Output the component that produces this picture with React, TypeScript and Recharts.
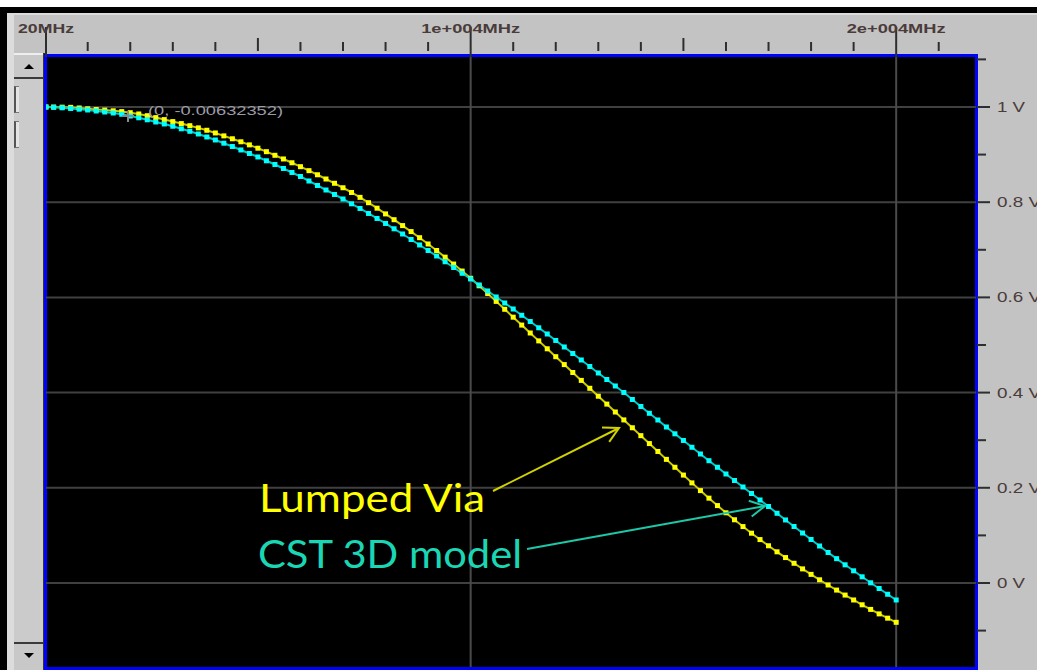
import React from "react"
import { LineChart, Line, XAxis, YAxis, ReferenceLine } from "recharts"

// sweep frequency in MHz
const FREQ_MHZ = [
  20, 200, 400, 600, 800, 1000, 1200, 1400, 1600, 1800,
  2000, 2200, 2400, 2600, 2800, 3000, 3200, 3400, 3600, 3800,
  4000, 4200, 4400, 4600, 4800, 5000, 5200, 5400, 5600, 5800,
  6000, 6200, 6400, 6600, 6800, 7000, 7200, 7400, 7600, 7800,
  8000, 8200, 8400, 8600, 8800, 9000, 9200, 9400, 9600, 9800,
  10000, 10200, 10400, 10600, 10800, 11000, 11200, 11400, 11600, 11800,
  12000, 12200, 12400, 12600, 12800, 13000, 13200, 13400, 13600, 13800,
  14000, 14200, 14400, 14600, 14800, 15000, 15200, 15400, 15600, 15800,
  16000, 16200, 16400, 16600, 16800, 17000, 17200, 17400, 17600, 17800,
  18000, 18200, 18400, 18600, 18800, 19000, 19200, 19400, 19600, 19800,
  20000,
]

// yellow trace (V)
const LUMPED_VIA = [
  1.0, 0.9998, 0.9996, 0.9992, 0.9979, 0.9962, 0.9947, 0.9935, 0.992, 0.9903,
  0.988, 0.9853, 0.9817, 0.9777, 0.9735, 0.9693, 0.9651, 0.9607, 0.9561, 0.9511,
  0.9454, 0.9393, 0.9332, 0.9269, 0.9204, 0.9134, 0.9061, 0.8985, 0.8908, 0.8828,
  0.8746, 0.8662, 0.8576, 0.8487, 0.8397, 0.8303, 0.8204, 0.8101, 0.7989, 0.7874,
  0.7754, 0.7632, 0.7508, 0.7382, 0.7254, 0.7122, 0.6985, 0.6845, 0.67, 0.6553,
  0.6401, 0.6244, 0.6082, 0.5916, 0.575, 0.5584, 0.5418, 0.5252, 0.5086, 0.492,
  0.4754, 0.4588, 0.4422, 0.4256, 0.409, 0.3924, 0.3758, 0.3592, 0.3426, 0.3261,
  0.3095, 0.2929, 0.2763, 0.2597, 0.2431, 0.2267, 0.2103, 0.1941, 0.1782, 0.1626,
  0.1475, 0.1328, 0.1185, 0.1046, 0.0912, 0.0782, 0.0655, 0.0534, 0.0414, 0.0296,
  0.0181, 0.0067, -0.0042, -0.0149, -0.0254, -0.0357, -0.0458, -0.0555, -0.0649, -0.0739,
  -0.0826,
]

// cyan trace (V)
const CST_3D = [
  1.0, 0.9994, 0.9983, 0.9968, 0.9954, 0.9937, 0.9916, 0.9895, 0.9874, 0.9847,
  0.9811, 0.9773, 0.9731, 0.9685, 0.9643, 0.9595, 0.9542, 0.9489, 0.9433, 0.937,
  0.9307, 0.9239, 0.917, 0.9097, 0.9023, 0.895, 0.887, 0.8792, 0.8708, 0.8624,
  0.854, 0.8445, 0.8351, 0.8256, 0.8162, 0.8067, 0.7966, 0.7868, 0.7763, 0.7658,
  0.7553, 0.7441, 0.7332, 0.7216, 0.7101, 0.6985, 0.687, 0.6748, 0.6628, 0.6506,
  0.6387, 0.6261, 0.6134, 0.6008, 0.5882, 0.5756, 0.5624, 0.5494, 0.5361, 0.5231,
  0.5095, 0.4958, 0.4821, 0.4685, 0.4548, 0.4412, 0.4275, 0.4139, 0.4002, 0.3855,
  0.3708, 0.3565, 0.3424, 0.3277, 0.3134, 0.2994, 0.2851, 0.271, 0.2569, 0.2431,
  0.229, 0.2153, 0.2017, 0.188, 0.1744, 0.1607, 0.1464, 0.1324, 0.1187, 0.105,
  0.0914, 0.0777, 0.0641, 0.0511, 0.0382, 0.0256, 0.013, 0.0004, -0.0116, -0.0237,
  -0.0357,
]

const FREQ_TICKS = [
  20, 1000, 2000, 3000, 4000, 5000, 6000, 7000, 8000, 9000, 10000,
  11000, 12000, 13000, 14000, 15000, 16000, 17000, 18000, 19000, 20000, 21000,
]
const FREQ_LABELS: Record<number, string> = { 20: "20MHz", 10000: "1e+004MHz", 20000: "2e+004MHz" }
const FREQ_GRID = [10000, 20000]
const VOLT_TICKS = [-0.1, 0, 0.1, 0.2, 0.3, 0.4, 0.5, 0.6, 0.7, 0.8, 0.9, 1, 1.1]
const VOLT_GRID = [0, 0.2, 0.4, 0.6, 0.8, 1]

const data = FREQ_MHZ.map((f, i) => ({ f, lumped: LUMPED_VIA[i], cst: CST_3D[i] }))

const FONT = "'Liberation Sans', Arial, sans-serif"

function FreqTick(props: any) {
  const { x, payload } = props
  const v = payload.value
  const label = FREQ_LABELS[v]
  const mid = v === 5000 || v === 15000
  const y1 = label ? 27 : mid ? 38 : 42
  const y2 = label ? 57 : 51
  return (
    <g>
      <line x1={x} x2={x} y1={y1} y2={y2} stroke="#2e2e2e" strokeWidth={2} />
      {label && (
        <text
          x={x}
          y={33}
          textAnchor="middle"
          fontFamily={FONT}
          fontWeight="bold"
          fontSize={12}
          fill="#4a3c3a"
          textLength={v === 20 ? 56 : 99}
          lengthAdjust="spacingAndGlyphs"
        >
          {label}
        </text>
      )}
    </g>
  )
}

function VoltTick(props: any) {
  const { y, payload } = props
  const v = payload.value
  const labelled = Math.round(v * 10) % 2 === 0 && v >= 0 && v <= 1
  const label = v === 0 ? "0 V" : v === 1 ? "1 V" : `${v} V`
  return (
    <g>
      <line x1={977} x2={labelled ? 990 : 986} y1={y} y2={y} stroke="#2e2e2e" strokeWidth={2} />
      {labelled && (
        <text
          x={997}
          y={y + 5}
          fontFamily={FONT}
          fontSize={14}
          fill="#4a3c3a"
          textLength={label.length === 3 ? 28 : 44}
          lengthAdjust="spacingAndGlyphs"
        >
          {label}
        </text>
      )}
    </g>
  )
}

const squareDot = (color: string) => (p: any) =>
  <rect key={`d${p.index}`} x={p.cx - 2.5} y={p.cy - 2.5} width={5} height={5} fill={color} />

const abs = (l: number, t: number, w: number, h: number, extra: React.CSSProperties = {}): React.CSSProperties => ({
  position: "absolute",
  left: l,
  top: t,
  width: w,
  height: h,
  boxSizing: "border-box",
  ...extra,
})

export default function App() {
  return (
    <div style={abs(0, 0, 1037, 670, { background: "#fff", overflow: "hidden" })}>
      {/* window frame */}
      <div style={abs(0, 7, 1037, 663, { background: "#000" })} />
      <div style={abs(7, 13, 1030, 657, { background: "#c3c3c3" })} />
      <div style={abs(7, 13, 7, 657, { background: "#dcdcdc" })} />
      <div style={abs(7, 13, 1030, 2, { background: "#dcdcdc" })} />

      {/* scrollbar */}
      <div style={abs(14, 53, 29, 617, { background: "#cbcbcb" })} />
      <div style={abs(14, 53, 29, 26, { background: "#c8c8c8", borderTop: "2px solid #eee", borderBottom: "2px solid #3a3a3a" })} />
      <div style={abs(14, 86, 5, 27, { background: "#e4e4e4", borderLeft: "2px solid #555", borderTop: "1px solid #777", borderBottom: "1px solid #777" })} />
      <div style={abs(14, 121, 5, 27, { background: "#e4e4e4", borderLeft: "2px solid #555", borderTop: "1px solid #777", borderBottom: "1px solid #777" })} />
      <div style={abs(14, 642, 29, 28, { background: "#c8c8c8", borderTop: "2px solid #3a3a3a" })} />
      <div style={abs(43, 53, 2, 617, { background: "#333" })} />

      {/* plot background */}
      <div style={abs(44, 54, 934, 616, { background: "#000", border: "3px solid #0000ff" })} />

      <div style={abs(0, 0, 1037, 670)}>
        <LineChart width={1037} height={670} data={data} margin={{ top: 13, right: 0, bottom: 3, left: 46 }}>
          <XAxis
            dataKey="f"
            type="number"
            orientation="top"
            domain={[20, 21876]}
            ticks={FREQ_TICKS}
            interval={0}
            height={44}
            axisLine={false}
            tickLine={false}
            allowDataOverflow
            tick={(p: any) => <FreqTick {...p} />}
          />
          <YAxis
            orientation="right"
            type="number"
            domain={[-0.1765, 1.105]}
            ticks={VOLT_TICKS}
            interval={0}
            width={61}
            axisLine={false}
            tickLine={false}
            allowDataOverflow
            tick={(p: any) => <VoltTick {...p} />}
          />
          {VOLT_GRID.map((v) => (
            <ReferenceLine key={`h${v}`} y={v} stroke="#404040" strokeWidth={2} />
          ))}
          {FREQ_GRID.map((f) => (
            <ReferenceLine key={`v${f}`} x={f} stroke="#4a4a4a" strokeWidth={2} />
          ))}
          <Line
            dataKey="lumped"
            type="linear"
            stroke="#c8c800"
            strokeWidth={2}
            dot={squareDot("#ffff00")}
            activeDot={false}
            isAnimationActive={false}
          />
          <Line
            dataKey="cst"
            type="linear"
            stroke="#00c8c8"
            strokeWidth={2}
            dot={squareDot("#00ffff")}
            activeDot={false}
            isAnimationActive={false}
          />
        </LineChart>
      </div>

      {/* annotations */}
      <svg width={1037} height={670} style={abs(0, 0, 1037, 670, { pointerEvents: "none" })}>
        <polygon points="24,69 34,69 29,64" fill="#000" />
        <polygon points="24,653 34,653 29,658" fill="#000" />

        <path d="M122 116 L134 116 M128 111 L128 122" stroke="#8a8a8a" strokeWidth={2} />
        <text
          x={148}
          y={115}
          fontFamily={FONT}
          fontSize={13}
          fill="#9c9ca8"
          textLength={135}
          lengthAdjust="spacingAndGlyphs"
        >
          (0, -0.00632352)
        </text>

        <g stroke="#d2d200" strokeWidth={2} fill="none">
          <line x1={493} y1={491} x2={619} y2={428} />
          <polyline points="602,427.6 619,428 609.2,441.9" />
        </g>
        <g stroke="#1cc8a8" strokeWidth={2} fill="none">
          <line x1={527} y1={549} x2={765} y2={506} />
          <polyline points="748.8,500.8 765,506 751.7,516.5" />
        </g>

        <text
          x={259}
          y={512}
          fontFamily="Lato, 'Open Sans', sans-serif"
          fontSize={38}
          fill="#ffff00"
          textLength={226}
          lengthAdjust="spacingAndGlyphs"
        >
          Lumped Via
        </text>
        <text
          x={258}
          y={568}
          fontFamily="Lato, 'Open Sans', sans-serif"
          fontSize={38}
          fill="#1ad6b4"
          textLength={264}
          lengthAdjust="spacingAndGlyphs"
        >
          CST 3D model
        </text>
      </svg>
    </div>
  )
}
